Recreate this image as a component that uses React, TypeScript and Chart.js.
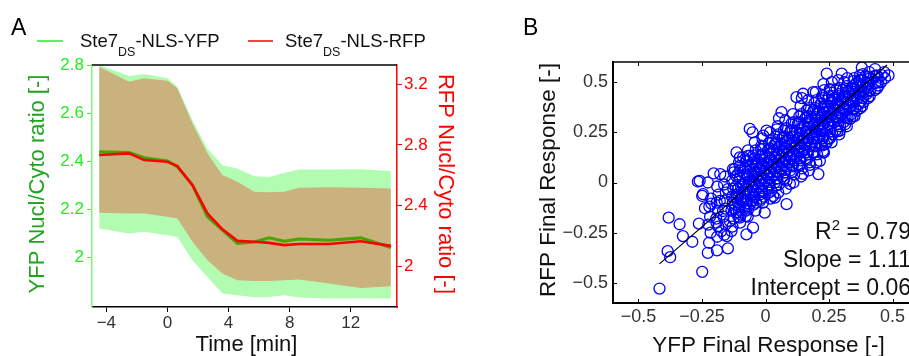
import React, { useEffect, useRef } from 'react';
import { Chart, registerables } from 'chart.js';
Chart.register(...registerables);

const FONT = '"Liberation Sans", Arial, Helvetica, sans-serif';

// ---------- Panel A data ----------
const timeMin = [-4.47, -2.51, -1.53, 0, 0.65, 1.64, 2.62, 3.6, 4.58, 5.68, 6.66, 7.64, 8.62, 10.58, 12.66, 14.63];
const yfpMean = [2.44, 2.437, 2.415, 2.402, 2.377, 2.301, 2.169, 2.114, 2.059, 2.065, 2.082, 2.068, 2.077, 2.072, 2.082, 2.042];
const yfpUpper = [2.8, 2.754, 2.763, 2.745, 2.71, 2.571, 2.452, 2.384, 2.37, 2.338, 2.335, 2.352, 2.366, 2.366, 2.367, 2.36];
const yfpLower = [2.121, 2.1, 2.107, 2.093, 2.086, 1.989, 1.92, 1.851, 1.844, 1.836, 1.837, 1.844, 1.834, 1.83, 1.831, 1.83];
const rfpMean = [2.733, 2.744, 2.7, 2.689, 2.66, 2.535, 2.348, 2.243, 2.167, 2.161, 2.154, 2.139, 2.146, 2.146, 2.165, 2.134];
const rfpUpper = [3.316, 3.217, 3.239, 3.223, 3.173, 2.942, 2.744, 2.601, 2.557, 2.491, 2.487, 2.491, 2.517, 2.52, 2.517, 2.513];
const rfpLower = [2.352, 2.348, 2.348, 2.326, 2.315, 2.161, 2.04, 1.952, 1.908, 1.903, 1.903, 1.908, 1.912, 1.886, 1.857, 1.868];

const timeTicks = [-4, 0, 4, 8, 12];
const yfpTicks = [2, 2.2, 2.4, 2.6, 2.8];
const rfpTicks = [2, 2.4, 2.8, 3.2];

const legendYfp = ['Ste7', 'DS', '-NLS-YFP'];
const legendRfp = ['Ste7', 'DS', '-NLS-RFP'];

// ---------- Panel B data ----------
const responseTicks = [-0.5, -0.25, 0, 0.25, 0.5];
const fitLineX = [-0.417, 0.478];
const fitLineY = [-0.405, 0.585];
const statR2 = '0.79';
const statSlope = '1.11';
const statIntercept = '0.06';

// [YFP final response, RFP final response]
const cellResponses: [number, number][] = [
  // outliers
  [-0.417,-0.528],[-0.249,-0.445],[-0.381,-0.175],[-0.338,-0.208],[-0.325,-0.267],[-0.288,-0.295],[-0.385,-0.342],[-0.375,-0.372],
  [-0.227,-0.35],[-0.191,-0.338],[-0.148,-0.328],[-0.262,-0.205],[-0.266,0.005],[-0.227,0.0],[-0.204,0.045],[-0.178,0.042],
  [-0.249,-0.067],[-0.238,-0.128],[-0.213,-0.105],[-0.18,-0.092],[-0.193,-0.2],[-0.174,-0.242],[-0.152,-0.267],[-0.134,-0.242],
  [-0.141,-0.192],[-0.101,-0.175],[-0.075,-0.258],[-0.049,-0.225],[-0.078,-0.167],[-0.121,-0.133],[-0.148,-0.033],[-0.114,-0.075],
  [-0.062,-0.108],[-0.022,-0.092],[-0.003,-0.15],[0.03,-0.067],[-0.167,-0.142],[-0.121,0.067],[-0.101,0.125],[-0.062,0.133],
  [-0.036,0.092],[-0.088,-0.008],[-0.049,0.008],[-0.062,0.267],[-0.051,0.25],[-0.259,0.008],[-0.246,-0.058],[-0.114,0.15],
  [-0.088,0.125],[-0.069,0.133],[-0.128,0.067],[-0.101,0.083],[-0.009,0.233],[-0.016,0.183],
  [0.241,0.542],[0.3,0.542],[0.379,0.572],[0.372,0.533],[0.438,0.533],[0.484,0.533],[0.445,0.483],[0.385,0.45],[0.385,0.4],
  [0.359,0.358],[0.333,0.317],[0.293,0.258],[0.241,0.2],[0.227,0.158],[0.214,0.108],[0.208,0.042],[0.063,0.35],[0.148,0.442],
  [0.188,0.45],[0.122,0.425],[0.004,0.258],[0.175,0.088],[0.227,0.15],[0.083,-0.108],[0.037,-0.075],[0.096,-0.007],[0.147,0.043],
  // core cloud
  [-0.222,-0.3],[-0.216,-0.25],[-0.225,-0.21],[-0.218,-0.17],[-0.221,-0.12],[-0.214,-0.08],
  [-0.19,-0.27],[-0.186,-0.22],[-0.194,-0.18],[-0.188,-0.14],[-0.192,-0.1],[-0.185,-0.06],[-0.19,-0.02],
  [-0.162,-0.26],[-0.157,-0.21],[-0.165,-0.17],[-0.158,-0.13],[-0.161,-0.09],[-0.156,-0.05],[-0.163,-0.01],[-0.159,0.03],
  [-0.13,-0.22],[-0.126,-0.18],[-0.134,-0.14],[-0.128,-0.1],[-0.132,-0.07],[-0.127,-0.03],[-0.131,0.01],[-0.125,0.05],
  [-0.113,-0.15],[-0.118,-0.11],[-0.112,-0.06],[-0.117,-0.02],[-0.114,0.03],
  [-0.1,-0.2],[-0.097,-0.16],[-0.103,-0.12],[-0.098,-0.08],[-0.102,-0.05],[-0.096,-0.02],[-0.101,0.02],[-0.099,0.06],[-0.104,0.1],
  [-0.083,-0.13],[-0.088,-0.09],[-0.084,-0.05],[-0.087,-0.01],[-0.082,0.04],
  [-0.07,-0.17],[-0.067,-0.13],[-0.073,-0.09],[-0.069,-0.06],[-0.072,-0.03],[-0.066,0.0],[-0.071,0.03],[-0.068,0.07],[-0.074,0.11],[-0.069,0.16],
  [-0.053,-0.09],[-0.058,-0.05],[-0.054,-0.02],[-0.057,0.01],[-0.052,0.04],[-0.056,0.09],
  [-0.04,-0.14],[-0.037,-0.1],[-0.043,-0.07],[-0.039,-0.04],[-0.042,-0.01],[-0.036,0.02],[-0.041,0.05],[-0.038,0.08],[-0.044,0.12],[-0.039,0.16],[-0.042,0.2],
  [-0.023,-0.06],[-0.028,-0.02],[-0.024,0.01],[-0.027,0.04],[-0.022,0.07],[-0.026,0.1],
  [-0.01,-0.1],[-0.007,-0.07],[-0.013,-0.04],[-0.009,-0.01],[-0.012,0.02],[-0.006,0.05],[-0.011,0.08],[-0.008,0.11],[-0.014,0.14],[-0.009,0.18],[-0.012,0.22],
  [0.007,-0.03],[0.002,0.01],[0.006,0.04],[0.003,0.07],[0.008,0.1],[0.004,0.13],
  [0.02,-0.08],[0.023,-0.04],[0.017,-0.01],[0.021,0.02],[0.018,0.05],[0.024,0.08],[0.019,0.11],[0.022,0.14],[0.016,0.17],[0.021,0.21],[0.018,0.25],
  [0.037,0.0],[0.032,0.04],[0.036,0.07],[0.033,0.1],[0.038,0.13],[0.034,0.16],[0.037,0.19],
  [0.05,-0.05],[0.053,-0.01],[0.047,0.02],[0.051,0.05],[0.048,0.08],[0.054,0.11],[0.049,0.14],[0.052,0.17],[0.046,0.2],[0.051,0.24],[0.048,0.28],[0.053,0.32],
  [0.067,0.03],[0.062,0.07],[0.066,0.1],[0.063,0.13],[0.068,0.16],[0.064,0.19],[0.067,0.22],
  [0.08,-0.03],[0.083,0.01],[0.077,0.05],[0.081,0.08],[0.078,0.11],[0.084,0.14],[0.079,0.17],[0.082,0.2],[0.076,0.23],[0.081,0.27],[0.078,0.31],
  [0.097,0.06],[0.092,0.1],[0.096,0.13],[0.093,0.16],[0.098,0.19],[0.094,0.22],[0.097,0.25],
  [0.11,0.0],[0.113,0.04],[0.107,0.08],[0.111,0.11],[0.108,0.14],[0.114,0.17],[0.109,0.2],[0.112,0.23],[0.106,0.26],[0.111,0.3],[0.108,0.34],
  [0.127,0.09],[0.122,0.13],[0.126,0.16],[0.123,0.19],[0.128,0.22],[0.124,0.25],[0.127,0.29],
  [0.14,0.03],[0.143,0.07],[0.137,0.11],[0.141,0.15],[0.138,0.18],[0.144,0.21],[0.139,0.24],[0.142,0.27],[0.136,0.3],[0.141,0.34],[0.138,0.38],[0.143,0.42],
  [0.157,0.12],[0.152,0.16],[0.156,0.19],[0.153,0.22],[0.158,0.25],[0.154,0.28],[0.157,0.32],
  [0.17,0.06],[0.173,0.1],[0.167,0.14],[0.171,0.18],[0.168,0.21],[0.174,0.24],[0.169,0.27],[0.172,0.3],[0.166,0.33],[0.171,0.37],[0.168,0.41],
  [0.187,0.15],[0.182,0.19],[0.186,0.22],[0.183,0.25],[0.188,0.28],[0.184,0.31],[0.187,0.35],
  [0.2,0.1],[0.203,0.14],[0.197,0.18],[0.201,0.22],[0.198,0.25],[0.204,0.28],[0.199,0.31],[0.202,0.34],[0.196,0.37],[0.201,0.41],[0.198,0.45],
  [0.217,0.19],[0.212,0.23],[0.216,0.26],[0.213,0.29],[0.218,0.32],[0.214,0.35],[0.217,0.39],
  [0.23,0.15],[0.233,0.19],[0.227,0.23],[0.231,0.26],[0.228,0.29],[0.234,0.32],[0.229,0.35],[0.232,0.38],[0.226,0.42],[0.231,0.46],[0.228,0.49],
  [0.247,0.22],[0.242,0.26],[0.246,0.29],[0.243,0.32],[0.248,0.35],[0.244,0.38],[0.247,0.42],
  [0.26,0.2],[0.263,0.24],[0.257,0.28],[0.261,0.31],[0.258,0.34],[0.264,0.37],[0.259,0.4],[0.262,0.43],[0.256,0.46],[0.261,0.5],
  [0.277,0.26],[0.272,0.3],[0.276,0.33],[0.273,0.36],[0.278,0.39],[0.274,0.42],
  [0.29,0.24],[0.293,0.28],[0.287,0.32],[0.291,0.35],[0.288,0.38],[0.294,0.41],[0.289,0.44],[0.292,0.47],[0.286,0.51],
  [0.307,0.3],[0.302,0.34],[0.306,0.37],[0.303,0.4],[0.308,0.43],[0.304,0.46],
  [0.32,0.28],[0.323,0.32],[0.317,0.36],[0.321,0.39],[0.318,0.42],[0.324,0.45],[0.319,0.48],[0.322,0.52],
  [0.337,0.34],[0.332,0.38],[0.336,0.41],[0.333,0.44],[0.338,0.47],
  [0.35,0.33],[0.353,0.37],[0.347,0.4],[0.351,0.43],[0.348,0.46],[0.354,0.49],[0.349,0.52],
  [0.367,0.39],[0.362,0.42],[0.366,0.45],[0.363,0.48],[0.368,0.51],
  [0.38,0.38],[0.383,0.42],[0.377,0.45],[0.381,0.48],[0.378,0.51],[0.384,0.54],
  [0.397,0.44],[0.392,0.47],[0.396,0.5],[0.393,0.53],
  [0.41,0.43],[0.413,0.46],[0.407,0.49],[0.411,0.52],[0.408,0.55],
  [0.44,0.47],[0.443,0.5],[0.437,0.53],
  [0.47,0.52],[0.467,0.55],
  // dense centre of the cloud
  [-0.107,-0.17],[-0.105,-0.135],[-0.109,-0.1],[-0.106,-0.065],[-0.108,-0.03],[-0.104,0.005],[-0.11,0.04],
  [-0.077,-0.14],[-0.075,-0.105],[-0.079,-0.07],[-0.076,-0.035],[-0.078,0.0],[-0.074,0.035],[-0.08,0.07],[-0.077,0.105],
  [-0.047,-0.11],[-0.045,-0.075],[-0.049,-0.04],[-0.046,-0.005],[-0.048,0.03],[-0.044,0.065],[-0.05,0.1],[-0.047,0.135],
  [-0.017,-0.08],[-0.015,-0.045],[-0.019,-0.01],[-0.016,0.025],[-0.018,0.06],[-0.014,0.095],[-0.02,0.13],[-0.017,0.165],
  [0.013,-0.05],[0.015,-0.015],[0.011,0.02],[0.014,0.055],[0.012,0.09],[0.016,0.125],[0.01,0.16],[0.013,0.195],
  [0.043,-0.015],[0.045,0.02],[0.041,0.055],[0.044,0.09],[0.042,0.125],[0.046,0.16],[0.04,0.195],[0.043,0.23],[0.045,0.265],
  [0.073,0.015],[0.075,0.05],[0.071,0.085],[0.074,0.12],[0.072,0.155],[0.076,0.19],[0.07,0.225],[0.073,0.26],
  [0.103,0.05],[0.105,0.085],[0.101,0.12],[0.104,0.155],[0.102,0.19],[0.106,0.225],[0.1,0.26],[0.103,0.295],
  [0.133,0.085],[0.135,0.12],[0.131,0.155],[0.134,0.19],[0.132,0.225],[0.136,0.26],[0.13,0.295],[0.133,0.33],
  [0.163,0.115],[0.165,0.15],[0.161,0.185],[0.164,0.22],[0.162,0.255],[0.166,0.29],[0.16,0.325],[0.163,0.36],
  [0.193,0.15],[0.195,0.185],[0.191,0.22],[0.194,0.255],[0.192,0.29],[0.196,0.325],[0.19,0.36],[0.193,0.395],
  [0.223,0.185],[0.225,0.22],[0.221,0.255],[0.224,0.29],[0.222,0.325],[0.226,0.36],[0.22,0.395],[0.223,0.43],
  [0.253,0.22],[0.255,0.255],[0.251,0.29],[0.254,0.325],[0.252,0.36],[0.256,0.395],[0.25,0.43],[0.253,0.465],
  [0.283,0.255],[0.285,0.29],[0.281,0.325],[0.284,0.36],[0.282,0.395],[0.286,0.43],[0.28,0.465],
  [0.313,0.29],[0.315,0.325],[0.311,0.36],[0.314,0.395],[0.312,0.43],[0.316,0.465],[0.31,0.5],
  [0.343,0.33],[0.345,0.365],[0.341,0.4],[0.344,0.435],[0.342,0.47],[0.346,0.505],
  [0.373,0.37],[0.375,0.405],[0.371,0.44],[0.374,0.475],[0.372,0.51],
  [0.403,0.42],[0.405,0.455],[0.401,0.49],[0.404,0.525],
  [0.43,0.46],[0.432,0.495],[0.428,0.53],[0.431,0.565],
  [0.455,0.5],[0.457,0.535],
];

const fmt = (v: number) => (v < 0 ? '\u2212' : '') + String(Math.abs(Math.round(v * 100) / 100));
const font = (size: number) => `${size}px ${FONT}`;

function pts(ys: number[]) {
  return timeMin.map((t, i) => ({ x: t, y: ys[i] }));
}

function setTicks(vals: number[]) {
  return (axis: any) => {
    axis.ticks = vals.map((v) => ({ value: v }));
  };
}

function drawRotated(ctx: CanvasRenderingContext2D, text: string, x: number, y: number, angle: number, size: number, color: string) {
  ctx.save();
  ctx.translate(x, y);
  ctx.rotate(angle);
  ctx.font = font(size);
  ctx.fillStyle = color;
  ctx.textAlign = 'center';
  ctx.textBaseline = 'alphabetic';
  ctx.fillText(text, 0, 0);
  ctx.restore();
}

function drawSubLabel(ctx: CanvasRenderingContext2D, parts: string[], x: number, baseline: number) {
  ctx.textAlign = 'left';
  ctx.textBaseline = 'alphabetic';
  ctx.fillStyle = '#111';
  ctx.font = font(18.5);
  ctx.fillText(parts[0], x, baseline);
  let cx = x + ctx.measureText(parts[0]).width;
  ctx.font = font(12.5);
  ctx.fillText(parts[1], cx, baseline + 9.5);
  cx += ctx.measureText(parts[1]).width;
  ctx.font = font(18.5);
  ctx.fillText(parts[2], cx, baseline);
}

const panelAPlugin = {
  id: 'panelAText',
  afterDraw(chart: any) {
    const { ctx, chartArea: ca } = chart;
    ctx.save();
    ctx.strokeStyle = '#000';
    ctx.lineWidth = 1.5;
    ctx.beginPath();
    ctx.moveTo(ca.left, ca.top);
    ctx.lineTo(ca.right, ca.top);
    ctx.stroke();

    ctx.fillStyle = '#000';
    ctx.font = font(23);
    ctx.textAlign = 'left';
    ctx.textBaseline = 'alphabetic';
    ctx.fillText('A', 11, 35);

    // legend
    ctx.lineWidth = 1.5;
    ctx.strokeStyle = '#22ee22';
    ctx.beginPath(); ctx.moveTo(37, 41); ctx.lineTo(63, 41); ctx.stroke();
    ctx.strokeStyle = '#ff0000';
    ctx.beginPath(); ctx.moveTo(248, 41); ctx.lineTo(273, 41); ctx.stroke();
    drawSubLabel(ctx, legendYfp, 80, 46.5);
    drawSubLabel(ctx, legendRfp, 285, 46.5);

    drawRotated(ctx, 'YFP Nucl/Cyto ratio [-]', 44, 184, -Math.PI / 2, 22, 'rgb(30,165,30)');
    drawRotated(ctx, 'RFP Nucl/Cyto ratio [-]', 439, 184, Math.PI / 2, 22, '#ff0000');

    ctx.font = font(22);
    ctx.fillStyle = '#111';
    ctx.textAlign = 'center';
    ctx.fillText('Time [min]', 246.5, 351);
    ctx.restore();
  },
};

const panelBPlugin = {
  id: 'panelBText',
  afterDraw(chart: any) {
    const { ctx, chartArea: ca, scales } = chart;
    ctx.save();
    ctx.strokeStyle = '#000';
    ctx.lineWidth = 1.5;
    ctx.beginPath();
    ctx.moveTo(ca.left, ca.top);
    ctx.lineTo(ca.right, ca.top);
    ctx.stroke();
    // inside tick marks
    ctx.lineWidth = 1;
    responseTicks.forEach((v) => {
      const px = Math.round(scales.x.getPixelForValue(v)) + 0.5;
      ctx.beginPath();
      ctx.moveTo(px, ca.bottom); ctx.lineTo(px, ca.bottom - 4);
      ctx.moveTo(px, ca.top); ctx.lineTo(px, ca.top + 4);
      ctx.stroke();
      const py = Math.round(scales.y.getPixelForValue(v)) + 0.5;
      ctx.beginPath();
      ctx.moveTo(ca.left, py); ctx.lineTo(ca.left + 4, py);
      ctx.stroke();
    });

    ctx.fillStyle = '#000';
    ctx.font = font(23);
    ctx.textAlign = 'left';
    ctx.textBaseline = 'alphabetic';
    ctx.fillText('B', 63, 35);

    drawRotated(ctx, 'RFP Final Response [-]', 94.5, 180, -Math.PI / 2, 22.5, '#111');
    ctx.font = font(22.5);
    ctx.fillStyle = '#111';
    ctx.textAlign = 'center';
    ctx.fillText('YFP Final Response [-]', 308.5, 352);

    // statistics, right aligned
    const right = 451;
    ctx.textAlign = 'right';
    ctx.font = font(23);
    ctx.fillText('Slope = ' + statSlope, right, 267);
    ctx.fillText('Intercept = ' + statIntercept, right, 294.5);
    const r2rest = ' = ' + statR2;
    const wRest = ctx.measureText(r2rest).width;
    ctx.fillText(r2rest, right, 239);
    ctx.font = font(15);
    const w2 = ctx.measureText('2').width;
    ctx.fillText('2', right - wRest, 230);
    ctx.font = font(23);
    ctx.fillText('R', right - wRest - w2, 239);
    ctx.restore();
  },
};

export default function App() {
  const refA = useRef<HTMLCanvasElement>(null);
  const refB = useRef<HTMLCanvasElement>(null);

  useEffect(() => {
    const tickFontA = { family: FONT, size: 17 };
    const chartA = new Chart(refA.current as HTMLCanvasElement, {
      type: 'line',
      data: {
        datasets: [
          { data: pts(rfpMean), yAxisID: 'y2', borderColor: '#ff0000', borderWidth: 2.6, pointRadius: 0, fill: false },
          { data: pts(yfpMean), yAxisID: 'y', borderColor: 'rgb(70,165,0)', borderWidth: 3, pointRadius: 0, fill: false },
          { data: pts(rfpUpper), yAxisID: 'y2', borderWidth: 0, borderColor: 'rgba(0,0,0,0)', pointRadius: 0, fill: '+1', backgroundColor: 'rgb(201,178,125)' },
          { data: pts(rfpLower), yAxisID: 'y2', borderWidth: 0, borderColor: 'rgba(0,0,0,0)', pointRadius: 0, fill: false },
          { data: pts(yfpUpper), yAxisID: 'y', borderWidth: 0, borderColor: 'rgba(0,0,0,0)', pointRadius: 0, fill: '+1', backgroundColor: 'rgb(178,252,178)' },
          { data: pts(yfpLower), yAxisID: 'y', borderWidth: 0, borderColor: 'rgba(0,0,0,0)', pointRadius: 0, fill: false },
        ] as any,
      },
      options: {
        responsive: false,
        animation: false,
        devicePixelRatio: 1,
        layout: { padding: { top: 65, left: 0, right: 0, bottom: 0 } },
        plugins: { legend: { display: false }, tooltip: { enabled: false } },
        elements: { line: { tension: 0 } },
        scales: {
          x: {
            type: 'linear', min: -4.94, max: 15.03,
            afterBuildTicks: setTicks(timeTicks),
            afterFit: (a: any) => { a.height = 49; },
            grid: { drawOnChartArea: false, tickLength: 5, color: '#000' },
            border: { color: '#000', width: 1.5 },
            ticks: { font: tickFontA, color: '#333', padding: 1, autoSkip: false, maxRotation: 0, callback: (v: any) => fmt(Number(v)) },
          },
          y: {
            type: 'linear', position: 'left', min: 1.795, max: 2.8,
            afterBuildTicks: setTicks(yfpTicks),
            afterFit: (a: any) => { a.width = 92; },
            grid: { drawOnChartArea: false, tickLength: 5, color: '#44ee44' },
            border: { color: '#7cf57c', width: 1.5 },
            ticks: { font: tickFontA, color: '#22ee22', padding: 3, autoSkip: false, callback: (v: any) => fmt(Number(v)) },
          },
          y2: {
            type: 'linear', position: 'right', min: 1.731, max: 3.327,
            afterBuildTicks: setTicks(rfpTicks),
            afterFit: (a: any) => { a.width = 63; },
            grid: { drawOnChartArea: false, tickLength: 5, color: '#ff0000' },
            border: { color: '#ff0000', width: 1.5 },
            ticks: { font: tickFontA, color: '#ff0000', padding: 2, autoSkip: false, callback: (v: any) => fmt(Number(v)) },
          },
        },
      } as any,
      plugins: [panelAPlugin],
    });

    const tickFontB = { family: FONT, size: 18 };
    const chartB = new Chart(refB.current as HTMLCanvasElement, {
      type: 'scatter',
      data: {
        datasets: [
          {
            data: fitLineX.map((x, i) => ({ x, y: fitLineY[i] })),
            showLine: true, borderColor: '#000', borderWidth: 1.2, pointRadius: 0, order: 0,
          },
          {
            data: cellResponses.map(([x, y]) => ({ x, y })),
            showLine: false, pointRadius: 5.5, pointBorderWidth: 1.3, order: 1,
            borderColor: '#0000ff', pointBorderColor: '#0000ff', backgroundColor: 'rgba(0,0,0,0)', pointBackgroundColor: 'rgba(0,0,0,0)',
          },
        ] as any,
      },
      options: {
        responsive: false,
        animation: false,
        devicePixelRatio: 1,
        layout: { padding: { top: 62, left: 0, right: 42, bottom: 0 } },
        plugins: { legend: { display: false }, tooltip: { enabled: false } },
        scales: {
          x: {
            type: 'linear', min: -0.6, max: 0.6,
            afterBuildTicks: setTicks(responseTicks),
            afterFit: (a: any) => { a.height = 53; },
            grid: { display: true, drawOnChartArea: false, drawTicks: false },
            border: { color: '#000', width: 2 },
            ticks: { font: tickFontB, color: '#333', padding: 3, autoSkip: false, maxRotation: 0, callback: (v: any) => fmt(Number(v)) },
          },
          y: {
            type: 'linear', min: -0.6, max: 0.6,
            afterBuildTicks: setTicks(responseTicks),
            afterFit: (a: any) => { a.width = 153; },
            grid: { display: true, drawOnChartArea: false, drawTicks: false },
            border: { color: '#000', width: 2 },
            ticks: { font: tickFontB, color: '#333', padding: 5, autoSkip: false, callback: (v: any) => fmt(Number(v)) },
          },
        },
      } as any,
      plugins: [panelBPlugin],
    });

    return () => {
      chartA.destroy();
      chartB.destroy();
    };
  }, []);

  return (
    <div style={{ position: 'fixed', left: 0, top: 0, width: 909, height: 356, overflow: 'hidden', background: '#fff' }}>
      <canvas ref={refA} width={460} height={356} style={{ position: 'absolute', left: 0, top: 0, width: 460, height: 356 }} />
      <canvas ref={refB} width={500} height={356} style={{ position: 'absolute', left: 460, top: 0, width: 500, height: 356 }} />
    </div>
  );
}
